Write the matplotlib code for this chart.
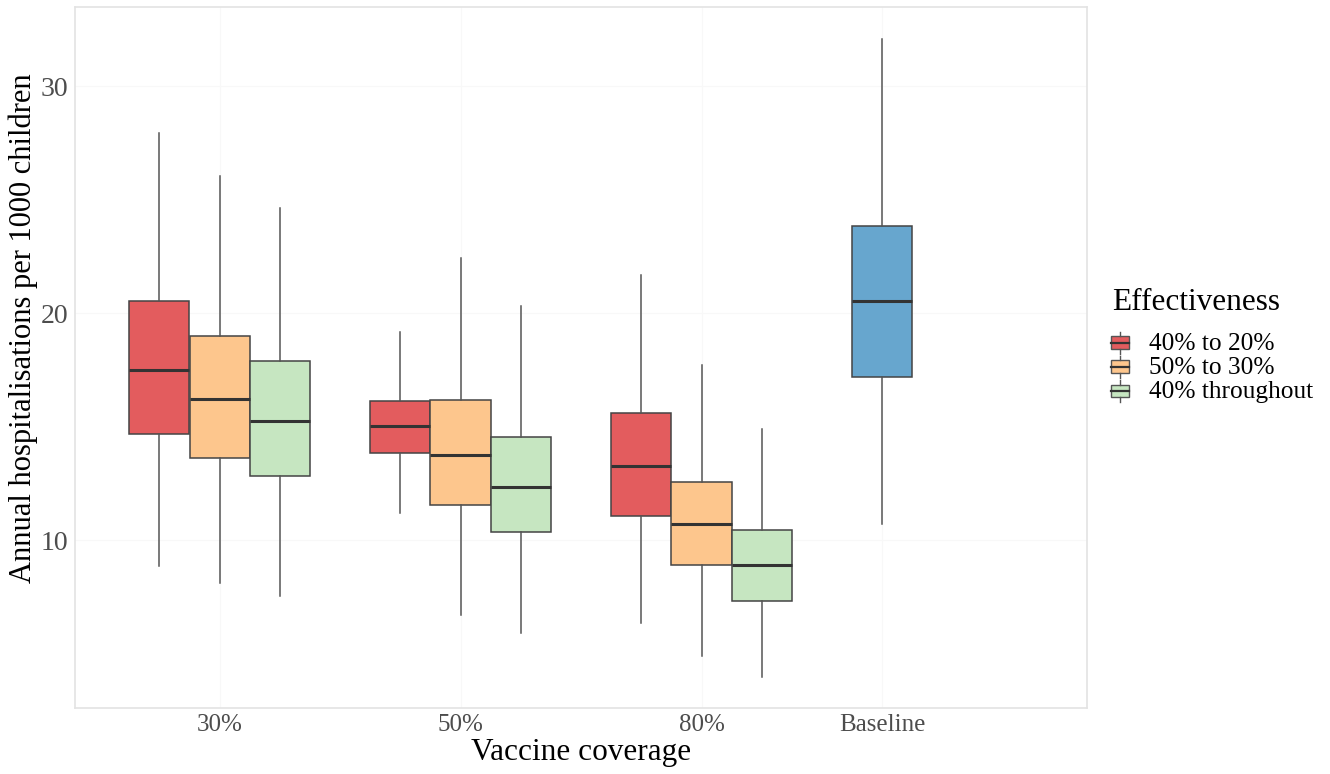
import matplotlib.pyplot as plt
from matplotlib.legend_handler import HandlerBase
from matplotlib.patches import Rectangle
from matplotlib.lines import Line2D

plt.rcParams['font.family'] = ['Liberation Serif', 'DejaVu Serif']

# coverage groups and effectiveness scenarios
coverage = ['30%', '50%', '80%']
scenarios = ['40% to 20%', '50% to 30%', '40% throughout']
colors = ['#E35C5E', '#FDC68D', '#C6E6C1']
baseline_color = '#67A6CE'

# box summary per scenario, one value per coverage group
whislo = [[8.85, 11.2, 6.35], [8.1, 6.7, 4.9], [7.55, 5.9, 3.95]]
q1 = [[14.68, 13.84, 11.06], [13.6, 11.55, 8.88], [12.8, 10.35, 7.31]]
med = [[17.51, 15.03, 13.25], [16.23, 13.75, 10.72], [15.25, 12.34, 8.9]]
q3 = [[20.55, 16.14, 15.61], [19.0, 16.18, 12.56], [17.9, 14.55, 10.45]]
whishi = [[27.93, 19.18, 21.7], [26.03, 22.45, 17.73], [24.61, 20.33, 14.9]]

# baseline (no vaccine)
baseline_stats = dict(whislo=10.71, q1=17.2, med=20.55, q3=23.86, whishi=32.08)

width = 0.25
box_kw = dict(showfliers=False, patch_artist=True, widths=width * 0.999,
              boxprops=dict(edgecolor='#444444', linewidth=1.1),
              medianprops=dict(color='#333333', linewidth=2.2),
              whiskerprops=dict(color='#555555', linewidth=1.1),
              capprops=dict(linewidth=0))

fig = plt.figure(figsize=(13.3, 7.74), dpi=100)
ax = fig.add_axes([0.0564, 0.0853, 0.761, 0.906])

for s in range(3):
    stats = []
    pos = []
    for g in range(3):
        stats.append(dict(whislo=whislo[s][g], q1=q1[s][g], med=med[s][g],
                          q3=q3[s][g], whishi=whishi[s][g]))
        pos.append(g + 1 + (s - 1) * width)
    bp = ax.bxp(stats, positions=pos, **box_kw)
    for b in bp['boxes']:
        b.set_facecolor(colors[s])

base_pos = 4 - width
bp = ax.bxp([baseline_stats], positions=[base_pos], **box_kw)
bp['boxes'][0].set_facecolor(baseline_color)

ax.set_xlim(0.40, 4.60)
ax.set_ylim(2.6, 33.5)
ax.set_xticks([1, 2, 3, base_pos])
ax.set_xticklabels(coverage + ['Baseline'])
ax.set_yticks([10, 20, 30])
ax.tick_params(axis='both', length=0, colors='#4d4d4d')
ax.tick_params(axis='x', labelsize=18, pad=4)
ax.tick_params(axis='y', labelsize=20, pad=5)
for sp in ax.spines.values():
    sp.set_color('#e3e3e3')
    sp.set_linewidth(1.2)
ax.grid(True, color='#f8f8f8', linewidth=0.8)
ax.set_axisbelow(True)

ax.set_xlabel('Vaccine coverage', fontsize=22.5, labelpad=2)
ax.set_ylabel('Annual hospitalisations per 1000 children', fontsize=22)
ax.yaxis.set_label_coords(-0.0366, 0.542)


class BoxKey(HandlerBase):
    def create_artists(self, legend, orig, xd, yd, w, h, fontsize, trans):
        cx = xd + w / 2
        bx = Rectangle((xd, yd + h * 0.1), w, h * 0.8, facecolor=orig.get_facecolor(),
                       edgecolor='#555555', linewidth=1.0, transform=trans)
        mid = Line2D([xd, xd + w], [yd + h / 2] * 2, color='#333333', linewidth=1.6,
                     transform=trans)
        top = Line2D([cx, cx], [yd + h * 0.9, yd + h * 1.2], color='#555555',
                     linewidth=1.0, transform=trans)
        bot = Line2D([cx, cx], [yd - h * 0.2, yd + h * 0.1], color='#555555',
                     linewidth=1.0, transform=trans)
        return [bx, mid, top, bot]


fig.text(1112 / 1330, 1 - 303 / 774, 'Effectiveness', fontsize=22.5,
         ha='left', va='center')

handles = [Rectangle((0, 0), 1, 1, facecolor=c) for c in colors]
leg = fig.legend(handles, scenarios, loc='upper left',
                 bbox_to_anchor=(1111 / 1330, 1 - 333 / 774), frameon=False, fontsize=18.3,
                 handler_map={Rectangle: BoxKey()},
                 handlelength=0.7, handleheight=0.6, handletextpad=0.8,
                 labelspacing=0.08, borderpad=0, borderaxespad=0)

fig.savefig('out.png', dpi=100)
